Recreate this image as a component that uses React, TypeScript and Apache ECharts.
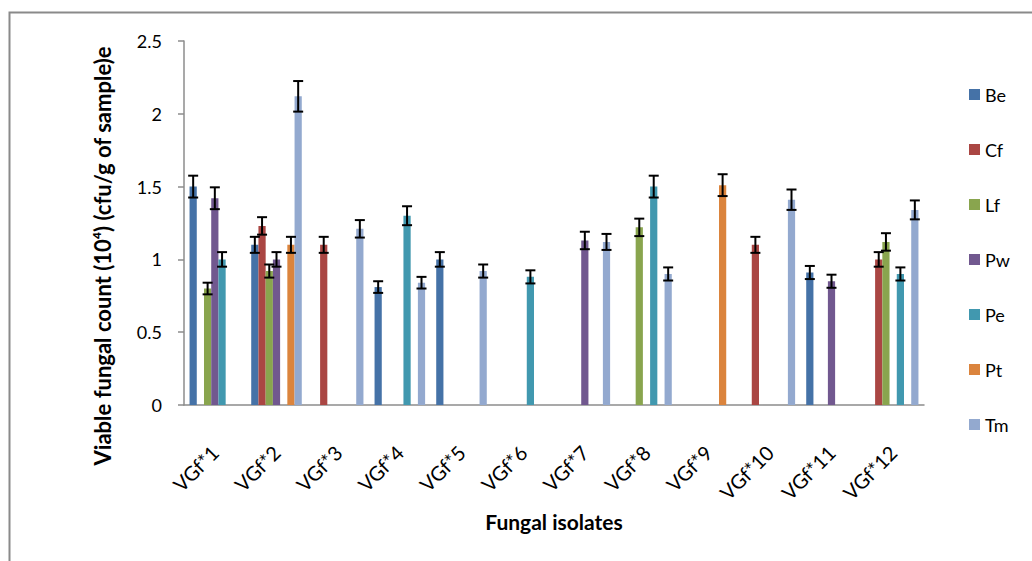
import React, { useEffect, useRef } from "react";
import * as echarts from "echarts";

const categories = ["VGf*1", "VGf*2", "VGf*3", "VGf*4", "VGf*5", "VGf*6", "VGf*7", "VGf*8", "VGf*9", "VGf*10", "VGf*11", "VGf*12"];
const seriesNames = ["Be", "Cf", "Lf", "Pw", "Pe", "Pt", "Tm"];
const colors = ["#4572A7", "#AA4643", "#89A54E", "#71588F", "#4198AF", "#DB843D", "#93A9CF"];

const beValues = [1.5, 1.1, null, 0.81, 1.0, null, null, null, null, null, 0.91, null];
const cfValues = [null, 1.23, 1.1, null, null, null, null, null, null, 1.1, null, 1.0];
const lfValues = [0.8, 0.92, null, null, null, null, null, 1.22, null, null, null, 1.12];
const pwValues = [1.42, 1.0, null, null, null, null, 1.13, null, null, null, 0.85, null];
const peValues = [1.0, null, null, 1.3, null, 0.88, null, 1.5, null, null, null, 0.9];
const ptValues = [null, 1.1, null, null, null, null, null, null, 1.51, null, null, null];
const tmValues = [null, 2.12, 1.21, 0.84, 0.92, null, 1.12, 0.9, null, 1.41, null, 1.34];

const beErrors = [0.075, 0.055, null, 0.04, 0.05, null, null, null, null, null, 0.045, null];
const cfErrors = [null, 0.06, 0.055, null, null, null, null, null, null, 0.055, null, 0.05];
const lfErrors = [0.04, 0.045, null, null, null, null, null, 0.06, null, null, null, 0.06];
const pwErrors = [0.075, 0.05, null, null, null, null, 0.06, null, null, null, 0.045, null];
const peErrors = [0.05, null, null, 0.065, null, 0.045, null, 0.075, null, null, null, 0.045];
const ptErrors = [null, 0.055, null, null, null, null, null, null, 0.075, null, null, null];
const tmErrors = [null, 0.105, 0.06, 0.04, 0.045, null, 0.055, 0.045, null, 0.07, null, 0.065];

const yTicks = ["0", "0.5", "1", "1.5", "2", "2.5"];

const allValues = [beValues, cfValues, lfValues, pwValues, peValues, ptValues, tmValues];
const allErrors = [beErrors, cfErrors, lfErrors, pwErrors, peErrors, ptErrors, tmErrors];

const FONT = "Lato, 'Open Sans', sans-serif";
const CAT_GAP = 0.18;

export default function App() {
  const ref = useRef<HTMLDivElement>(null);
  useEffect(() => {
    if (!ref.current) return;
    const chart = echarts.init(ref.current, null, { renderer: "svg" });
    const nSeries = seriesNames.length;

    const barSeries = seriesNames.map((name, s) => ({
      name,
      type: "bar",
      data: allValues[s],
      barGap: "0%",
      barCategoryGap: "18%",
      itemStyle: { color: colors[s] },
      z: 2,
    }));

    const errSeries = seriesNames.map((name, s) => ({
      name: name + " error",
      type: "custom",
      z: 5,
      silent: true,
      encode: { x: 0, y: 1 },
      data: allValues[s]
        .map((v, i) => (v == null ? null : [i, v, allErrors[s][i]]))
        .filter((d) => d != null),
      renderItem: (params: any, api: any) => {
        const ci = api.value(0);
        const v = api.value(1);
        const e = api.value(2);
        const c = api.coord([ci, v]);
        const band = api.size([1, 0])[0];
        const bw = (band * (1 - CAT_GAP)) / nSeries;
        const x = c[0] + (s - (nSeries - 1) / 2) * bw;
        const top = api.coord([ci, v + e])[1];
        const bot = api.coord([ci, v - e])[1];
        const hw = 5;
        const st = { stroke: "#000", lineWidth: 2 };
        return {
          type: "group",
          children: [
            { type: "line", shape: { x1: x, y1: top, x2: x, y2: bot }, style: st },
            { type: "line", shape: { x1: x - hw, y1: top, x2: x + hw, y2: top }, style: st },
            { type: "line", shape: { x1: x - hw, y1: bot, x2: x + hw, y2: bot }, style: st },
          ],
        };
      },
    }));

    chart.setOption({
      animation: false,
      textStyle: { fontFamily: FONT },
      grid: { left: 184, right: 108, top: 41, bottom: 156, containLabel: false },
      legend: {
        data: seriesNames,
        orient: "vertical",
        left: 964,
        top: 79,
        icon: "rect",
        itemWidth: 11,
        itemHeight: 11,
        itemGap: 34,
        textStyle: { fontFamily: FONT, fontSize: 18, color: "#000", lineHeight: 21 },
      },
      xAxis: {
        type: "category",
        data: categories,
        axisLine: { lineStyle: { color: "#8c8c8c", width: 1.5 } },
        axisTick: { show: false },
        axisLabel: { rotate: 45, margin: 44, fontSize: 20, color: "#000", fontFamily: FONT, interval: 0 },
        name: "Fungal isolates",
        nameLocation: "middle",
        nameGap: 106,
        nameTextStyle: { fontSize: 21, fontWeight: "bold", color: "#000", fontFamily: FONT },
      },
      yAxis: {
        type: "value",
        min: 0,
        max: 2.5,
        interval: 0.5,
        splitLine: { show: false },
        axisLine: { show: true, lineStyle: { color: "#8c8c8c", width: 1.5 } },
        axisTick: { show: true, length: 6, lineStyle: { color: "#8c8c8c", width: 1.5 } },
        axisLabel: {
          margin: 22,
          fontSize: 18,
          color: "#000",
          fontFamily: FONT,
          formatter: (val: number) => yTicks[Math.round(val / 0.5)] ?? String(val),
        },
      },
      graphic: [
        {
          type: "rect",
          shape: { x: 9.5, y: 12.5, width: 1100, height: 700 },
          style: { fill: "none", stroke: "#8a8a8a", lineWidth: 2 },
          silent: true,
          z: -10,
        },
        {
          type: "text",
          x: 102,
          y: 256,
          rotation: Math.PI / 2,
          style: {
            text: "Viable fungal count (10⁴) (cfu/g of sample)e",
            font: `bold 22px ${FONT}`,
            fill: "#000",
            textAlign: "center",
            textVerticalAlign: "middle",
            align: "center",
            verticalAlign: "middle",
          },
        },
      ],
      series: [...barSeries, ...errSeries],
    });
    return () => chart.dispose();
  }, []);
  return <div ref={ref} style={{ position: "fixed", left: 0, top: 0, width: 1032, height: 561, background: "#fff" }} />;
}
